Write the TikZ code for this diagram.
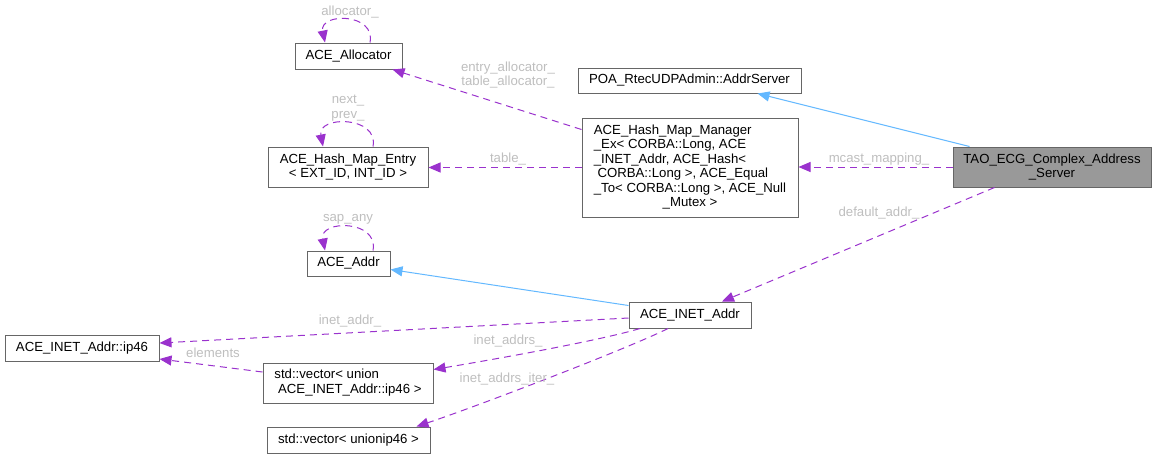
\documentclass[tikz,border=0pt]{standalone}
\usepackage{fontspec}
\setmainfont{Liberation Sans}
\usetikzlibrary{arrows.meta}
\definecolor{depc}{HTML}{9A32CD}
\definecolor{inhc}{HTML}{63B8FF}
\definecolor{lblc}{HTML}{BEBEBE}
\definecolor{brdc}{HTML}{666666}
\definecolor{taofill}{HTML}{999999}
\newcommand\dxfont{\fontsize{13.2}{14.5}\selectfont}
\tikzset{
  box/.style={draw=brdc, line width=1pt, fill=white, inner sep=0pt, align=center, font=\dxfont},
  deparrow/.style={draw=depc, line width=1pt, dash pattern=on 7pt off 5pt, -{Triangle[length=12pt,width=10pt,fill=depc]}},
  inharrow/.style={draw=inhc, line width=1pt, -{Triangle[length=12pt,width=10pt,fill=inhc]}},
  elabel/.style={text=lblc, font=\dxfont, inner sep=0pt, align=center}
}
\begin{document}
\begin{tikzpicture}[x=1pt,y=-1pt]
\useasboundingbox (0,0) rectangle (1156,459);
% nodes
\node[box, minimum width=107pt, minimum height=26pt] (alloc) at (348.5,56) {ACE\_Allocator};
\node[box, minimum width=160pt, minimum height=40pt] (entry) at (348,167) {ACE\_Hash\_Map\_Entry\\< EXT\_ID, INT\_ID >};
\node[box, minimum width=223pt, minimum height=25pt] (addrsrv) at (689.5,80.5) {POA\_RtecUDPAdmin::AddrServer};
\node[box, minimum width=216pt, minimum height=99pt] (hmm) at (690,167.5) {\begin{tabular}{@{}l@{}}ACE\_Hash\_Map\_Manager\\\_Ex< CORBA::Long, ACE\\\_INET\_Addr, ACE\_Hash<\\\ CORBA::Long >, ACE\_Equal\\\_To< CORBA::Long >, ACE\_Null\\\multicolumn{1}{@{}c@{}}{\_Mutex >}\end{tabular}};
\node[box, fill=taofill, minimum width=198pt, minimum height=40pt] (tao) at (1052,167) {TAO\_ECG\_Complex\_Address\\\_Server};
\node[box, minimum width=83pt, minimum height=25pt] (aceaddr) at (348.5,263.5) {ACE\_Addr};
\node[box, minimum width=154pt, minimum height=26pt] (ip46) at (82,348) {ACE\_INET\_Addr::ip46};
\node[box, minimum width=170pt, minimum height=40pt] (vecU) at (348,383) {\begin{tabular}{@{}l@{}}std::vector< union\\\ ACE\_INET\_Addr::ip46 >\end{tabular}};
\node[box, minimum width=163pt, minimum height=26pt] (vecI) at (348.5,440) {std::vector< unionip46 >};
\node[box, minimum width=122pt, minimum height=26pt] (inet) at (690,315) {ACE\_INET\_Addr};
% self loops
\draw[deparrow] ([xshift=21.5pt]alloc.north) .. controls +(6,-30) and +(-6,-30) .. ([xshift=-23.5pt]alloc.north);
\draw[deparrow] ([xshift=25pt]entry.north) .. controls +(6,-31) and +(-6,-31) .. ([xshift=-25pt]entry.north);
\draw[deparrow] ([xshift=24.5pt]aceaddr.north) .. controls +(6,-31) and +(-6,-31) .. ([xshift=-23.5pt]aceaddr.north);
% edges
\draw[inharrow] ([xshift=17pt]tao.north west) -- ([xshift=-44pt]addrsrv.south east);
\draw[deparrow] (tao.west) -- (tao.west -| hmm.east);
\draw[deparrow] ([xshift=42pt]tao.south west) -- ([xshift=32pt]inet.north);
\draw[deparrow] ([yshift=-12pt]hmm.north west) -- ([xshift=-10pt]alloc.south east);
\draw[deparrow] (hmm.west) -- (hmm.west -| entry.east);
\draw[inharrow] ([yshift=-4pt]inet.north west) -- ([yshift=-6pt]aceaddr.east);
\draw[deparrow] ([yshift=-3pt]inet.west) -- ([yshift=5pt]ip46.east);
\draw[deparrow] ([yshift=11pt]vecU.west) -- ([yshift=-11pt]ip46.east);
\draw[deparrow] ([xshift=-50pt]inet.south) .. controls +(-40,12) and +(60,-10) .. ([yshift=-7pt]vecU.north east);
\draw[deparrow] ([xshift=-22pt]inet.south) .. controls +(-40,20) and +(60,-20) .. ([xshift=-14pt]vecI.north east);
% edge labels
\node[elabel] at (350,12) {allocator\_};
\node[elabel] at (348,108) {next\_\\prev\_};
\node[elabel] at (348,219) {sap\_any};
\node[elabel] at (508,75) {entry\_allocator\_\\table\_allocator\_};
\node[elabel] at (508,159) {table\_};
\node[elabel] at (879,159) {mcast\_mapping\_};
\node[elabel] at (879,213) {default\_addr\_};
\node[elabel] at (350,321) {inet\_addr\_};
\node[elabel] at (213,353) {elements};
\node[elabel] at (508,341) {inet\_addrs\_};
\node[elabel] at (507,379) {inet\_addrs\_iter\_};
\end{tikzpicture}
\end{document}
